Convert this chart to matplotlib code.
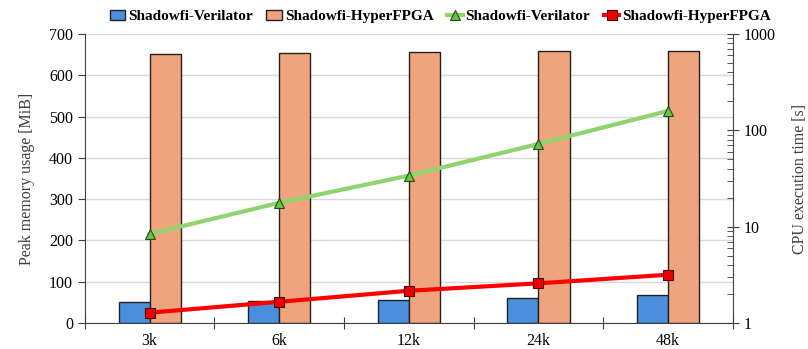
import matplotlib
matplotlib.use('Agg')
import matplotlib.pyplot as plt
import numpy as np
from matplotlib.ticker import LogLocator, NullFormatter, FixedLocator

plt.rcParams['font.family'] = ['Liberation Serif', 'DejaVu Serif']

# data
sizes = ['3k', '6k', '12k', '24k', '48k']
mem_verilator = [51, 53, 56, 61, 68]
mem_hyperfpga = [651, 654, 656, 658, 659]
cpu_verilator = [8.4, 17.7, 33.9, 72.3, 159]
cpu_hyperfpga = [1.28, 1.66, 2.16, 2.58, 3.17]

C_BLUE = '#4a8fdb'
C_ORANGE = '#f0a47e'
C_GREEN = '#8fd46f'
C_RED = '#ff0000'

fig = plt.figure(figsize=(8.08, 3.49), dpi=100)
ax1 = fig.add_axes([0.105, 0.0745, 0.802, 0.828])
ax2 = ax1.twinx()

x = np.arange(len(sizes))
w = 0.24
b1 = ax1.bar(x - w/2, mem_verilator, w, color=C_BLUE, edgecolor='#222222', linewidth=1.0,
             label='Shadowfi-Verilator', zorder=2)
b2 = ax1.bar(x + w/2, mem_hyperfpga, w, color=C_ORANGE, edgecolor='#222222', linewidth=1.0,
             label='Shadowfi-HyperFPGA', zorder=2)

l1, = ax2.plot(x, cpu_verilator, '-', color=C_GREEN, lw=3, marker='^', ms=7,
               mfc='#6cbf4a', mec='#1f4d10', mew=0.8, label='Shadowfi-Verilator')
l2, = ax2.plot(x, cpu_hyperfpga, '-', color=C_RED, lw=3, marker='s', ms=7,
               mfc='#ee0000', mec='#550000', mew=0.8, label='Shadowfi-HyperFPGA')

# left axis: memory
ax1.set_xlim(-0.5, len(sizes) - 0.5)
ax1.set_ylim(0, 700)
ax1.set_yticks(range(0, 701, 100))
ax1.yaxis.grid(True, color='#d9d9d9', lw=1, zorder=0)
ax1.set_axisbelow(True)
ax1.set_ylabel('Peak memory usage [MiB]', fontsize=11.5, color='#404040', labelpad=10)
ax1.xaxis.set_major_locator(FixedLocator(np.arange(-0.5, len(sizes), 1.0)))
ax1.xaxis.set_minor_locator(FixedLocator(x))
ax1.set_xticklabels([])
ax1.set_xticklabels(sizes, minor=True)
ax1.tick_params(axis='x', which='major', direction='inout', length=8, color='#404040')
ax1.tick_params(axis='x', which='minor', length=0, pad=7, labelsize=11.5)
ax1.tick_params(axis='y', direction='out', length=5, labelsize=11.5, color='#404040')
for s in ['top', 'right']:
    ax1.spines[s].set_visible(False)
ax1.spines['left'].set_color('#404040')
ax1.spines['bottom'].set_color('#404040')

# right axis: cpu time (log)
ax2.set_yscale('log')
ax2.set_ylim(1, 1000)
ax2.yaxis.set_minor_locator(LogLocator(base=10, subs=np.arange(2, 10), numticks=10))
ax2.yaxis.set_minor_formatter(NullFormatter())
ax2.set_yticks([1, 10, 100, 1000])
ax2.set_yticklabels(['1', '10', '100', '1000'])
ax2.tick_params(axis='y', which='major', direction='inout', length=8, labelsize=11.5, color='#404040')
ax2.tick_params(axis='y', which='minor', direction='in', length=4, color='#404040')
ax2.set_ylabel('CPU execution time [s]', fontsize=11.5, color='#404040', labelpad=12)
ax2.spines['top'].set_visible(False)
ax2.spines['left'].set_visible(False)
ax2.spines['bottom'].set_visible(False)
ax2.spines['right'].set_color('#404040')

fig.legend(handles=[b1, b2, l1, l2], loc='center', bbox_to_anchor=(0.545, 0.953),
           ncol=4, frameon=False, prop={'weight': 'bold', 'size': 11},
           handlelength=1.0, handletextpad=0.2, columnspacing=0.9, borderaxespad=0)

fig.savefig('out.png', dpi=100)
